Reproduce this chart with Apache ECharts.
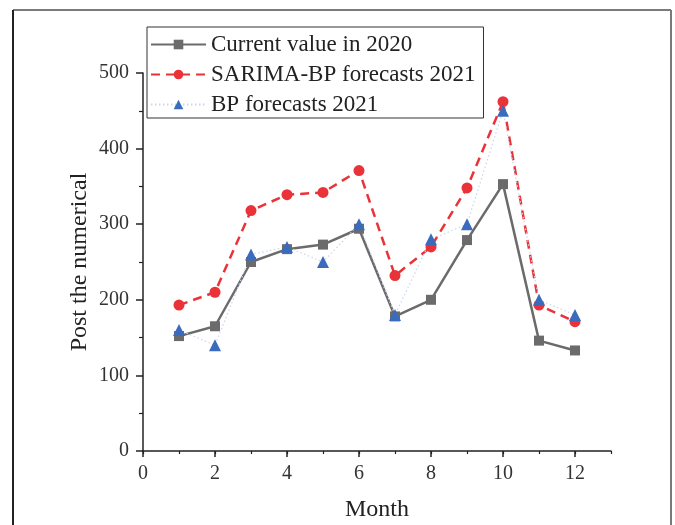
<!DOCTYPE html>
<html>
<head>
<meta charset="utf-8">
<script src="https://cdn.jsdelivr.net/npm/echarts@6/dist/echarts.min.js"></script>
<style>html,body{margin:0;padding:0;background:#fff;}#c{width:675px;height:525px;}</style>
</head>
<body>
<div id="c"></div>
<script>
const months = [1,2,3,4,5,6,7,8,9,10,11,12];
const current2020 = [152,165,250,267,273,294,178,200,279,353,146,133];
const sarimaBp2021 = [193,210,318,339,342,371,232,270,348,462,193,171];
const bp2021 = [160,140,260,270,250,300,180,280,300,450,200,180];
const seriesNames = ['Current value in 2020','SARIMA-BP forecasts 2021','BP forecasts 2021'];
const xMajorTicks = [0,2,4,6,8,10,12];

const pairs = arr => months.map((m,i)=>[m,arr[i]]);
const font = 'Liberation Serif';

const chart = echarts.init(document.getElementById('c'), null, {renderer:'canvas'});
chart.setOption({
  backgroundColor:'#fff',
  animation:false,
  graphic:[
    {type:'line', shape:{x1:13,y1:10,x2:671,y2:10}, style:{stroke:'#7a7a7a', lineWidth:2}},
    {type:'line', shape:{x1:671,y1:10,x2:671,y2:530}, style:{stroke:'#7a7a7a', lineWidth:2}},
    {type:'line', shape:{x1:13,y1:10,x2:13,y2:530}, style:{stroke:'#222', lineWidth:2}}
  ],
  grid:{left:143, right:64, top:73, bottom:74, outerBoundsMode:'none', containLabel:false},
  legend:{
    left:147, top:27, orient:'vertical',
    data:seriesNames,
    borderColor:'#333', borderWidth:1,
    padding:[6,8,2,3],
    itemWidth:55, itemHeight:12, itemGap:7,
    textStyle:{fontFamily:font, fontSize:23, color:'#222', lineHeight:22}
  },
  xAxis:[{
    type:'value', min:0, max:13, interval:2,
    name:'Month', nameLocation:'middle', nameGap:47, nameMoveOverlap:false,
    nameTextStyle:{fontFamily:font, fontSize:24, color:'#222'},
    axisLine:{lineStyle:{color:'#222', width:1.5}},
    axisTick:{show:true, length:6, inside:false, lineStyle:{color:'#222', width:1.5}, customValues:xMajorTicks},
    axisLabel:{fontFamily:font, fontSize:20, color:'#333', margin:13, customValues:xMajorTicks},
    splitLine:{show:false}
  },{
    type:'value', min:0, max:13, interval:1, position:'bottom',
    axisLine:{show:false},
    axisTick:{show:true, length:3, lineStyle:{color:'#222', width:1.2}},
    axisLabel:{show:false},
    splitLine:{show:false}
  }],
  yAxis:{
    type:'value', min:0, max:500, interval:100,
    name:'Post the numerical', nameLocation:'middle', nameGap:51, nameMoveOverlap:false,
    nameTextStyle:{fontFamily:font, fontSize:24, color:'#222'},
    axisLine:{show:true, lineStyle:{color:'#222', width:1.5}},
    axisTick:{show:true, length:7, lineStyle:{color:'#222', width:1.5}},
    minorTick:{show:true, splitNumber:2, length:4, lineStyle:{color:'#222', width:1.2}},
    axisLabel:{fontFamily:font, fontSize:20, color:'#333', margin:14},
    splitLine:{show:false}
  },
  series:[
    {name:seriesNames[0], type:'line', data:pairs(current2020),
     symbol:'rect', symbolSize:10, showAllSymbol:true,
     lineStyle:{color:'#6b6b6b', width:2.5}, itemStyle:{color:'#6b6b6b'}},
    {name:seriesNames[1], type:'line', data:pairs(sarimaBp2021),
     symbol:'circle', symbolSize:11,
     lineStyle:{color:'#ea3339', width:2.5, type:[9,6]}, itemStyle:{color:'#ea3339'}},
    {name:seriesNames[2], type:'line', data:pairs(bp2021),
     symbol:'triangle', symbolSize:12,
     lineStyle:{color:'#c9d5ee', width:1.2, type:[1.5,2.5]}, itemStyle:{color:'#3a6bbd'}}
  ]
});
</script>
</body>
</html>
